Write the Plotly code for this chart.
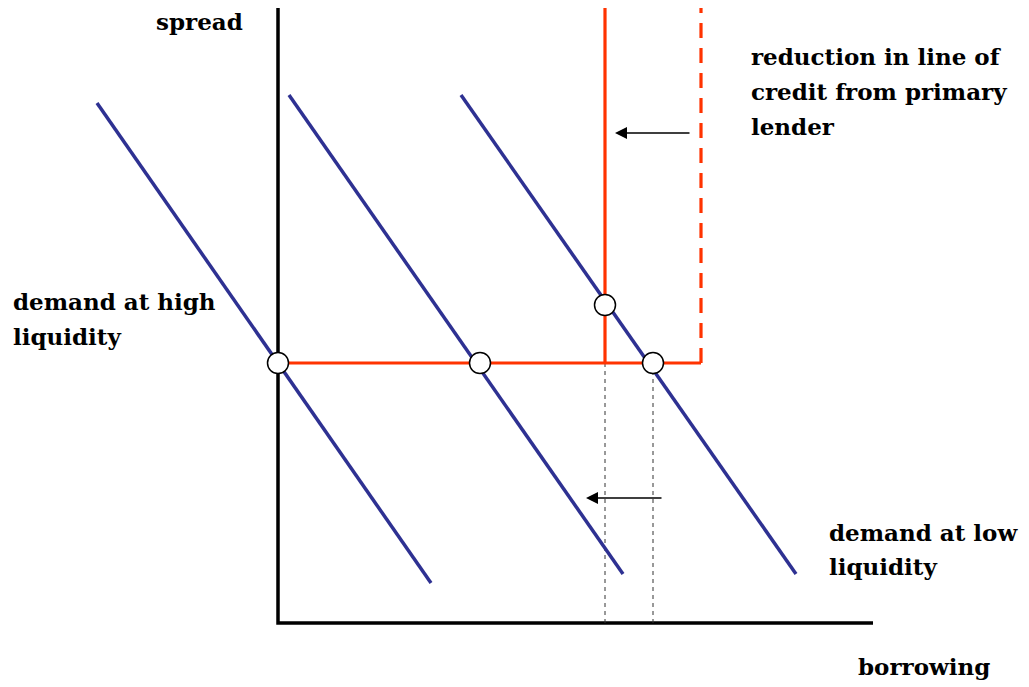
import plotly.graph_objects as go

# Data coordinates: borrowing (x) and spread (y), arbitrary units
axis_x_end = 595
axis_y_end = 615

# Demand curves (start, end points)
demand_high_x = [-181, 153]
demand_high_y = [520, 40]
demand_mid_x = [11, 345]
demand_mid_y = [528, 49]
demand_low_x = [183, 518]
demand_low_y = [528, 49]

# Supply (credit line) pieces
spread_level = 260
credit_new = 327
credit_old = 423

# Equilibrium points
eq_x = [0, 202, 327, 375]
eq_y = [260, 260, 318, 260]

# Dotted guide lines
guide_x = [327, 375]

# Arrows (tail -> head)
arrow_top = dict(x0=413, x1=337, y=490)
arrow_bottom = dict(x0=385, x1=308, y=125)

# Text labels: (line text, left x, baseline y)
label_lines = [
    ("spread", -123, 595),
    ("demand at high", -266, 315),
    ("liquidity", -266, 280),
    ("reduction in line of", 472, 560),
    ("credit from primary", 472, 525),
    ("lender", 472, 490),
    ("demand at low", 550, 84),
    ("liquidity", 550, 50),
    ("borrowing", 579, -50),
]

BLUE = "#2E3192"
RED = "#FF3300"
FS = 23
FONT = dict(family="DejaVu Serif", size=FS, color="black")

fig = go.Figure()

# axes
fig.add_trace(go.Scatter(x=[0, 0, axis_x_end], y=[axis_y_end, 0, 0], mode="lines",
                         line=dict(color="black", width=3.5), hoverinfo="skip"))

# dotted guides
for gx in guide_x:
    fig.add_trace(go.Scatter(x=[gx, gx], y=[0, spread_level], mode="lines",
                             line=dict(color="#333333", width=1, dash="4px,4px"), hoverinfo="skip"))

# demand curves
for xs, ys in [(demand_high_x, demand_high_y), (demand_mid_x, demand_mid_y), (demand_low_x, demand_low_y)]:
    fig.add_trace(go.Scatter(x=xs, y=ys, mode="lines", line=dict(color=BLUE, width=3.5), hoverinfo="skip"))

# supply
fig.add_trace(go.Scatter(x=[0, credit_old], y=[spread_level, spread_level], mode="lines",
                         line=dict(color=RED, width=3.2), hoverinfo="skip"))
fig.add_trace(go.Scatter(x=[credit_new, credit_new], y=[spread_level, axis_y_end], mode="lines",
                         line=dict(color=RED, width=3.2), hoverinfo="skip"))
fig.add_trace(go.Scatter(x=[credit_old, credit_old], y=[spread_level, axis_y_end], mode="lines",
                         line=dict(color=RED, width=3.2, dash="15px,10px"), hoverinfo="skip"))

# equilibrium markers
fig.add_trace(go.Scatter(x=eq_x, y=eq_y, mode="markers",
                         marker=dict(size=21, color="white", line=dict(color="black", width=1.5)),
                         hoverinfo="skip"))

# arrows
for a in (arrow_top, arrow_bottom):
    fig.add_annotation(x=a["x1"], y=a["y"], ax=a["x0"], ay=a["y"], xref="x", yref="y",
                       axref="x", ayref="y", text="", showarrow=True, arrowhead=2,
                       arrowsize=1.6, arrowwidth=1.5, arrowcolor="black")

for t, x, y in label_lines:
    fig.add_annotation(x=x, y=y + 0.3 * FS, xref="x", yref="y", text="<b>" + t + "</b>",
                       showarrow=False, xanchor="left", yanchor="middle", align="left",
                       font=FONT, borderpad=0)

fig.update_layout(
    width=1029, height=687, margin=dict(l=0, r=0, t=0, b=0),
    paper_bgcolor="white", plot_bgcolor="white", showlegend=False,
    xaxis=dict(range=[-270, 759], visible=False, fixedrange=True),
    yaxis=dict(range=[-72, 615], visible=False, fixedrange=True),
)

fig.write_html("out.html")
